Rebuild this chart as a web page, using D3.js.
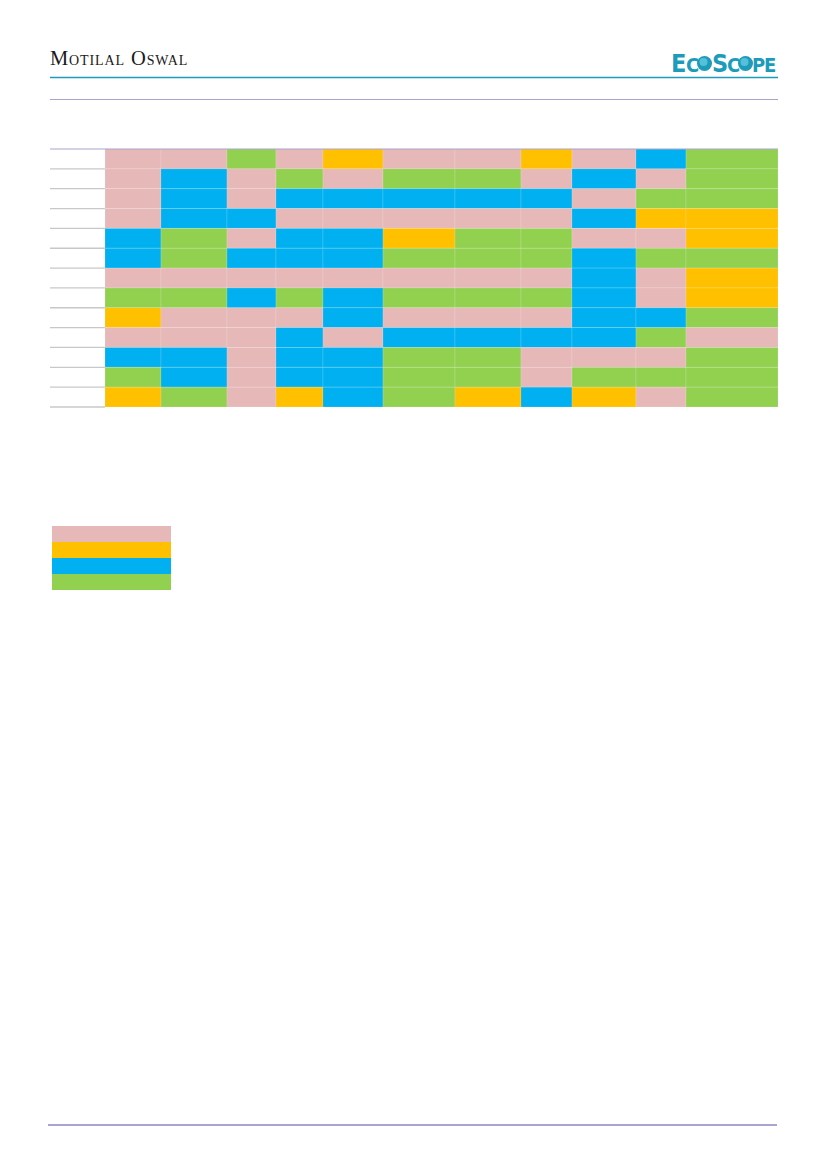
<!DOCTYPE html>
<html><head><meta charset="utf-8">
<script src="https://cdn.jsdelivr.net/npm/d3@7"></script>
<style>body{margin:0;background:#fff}svg{display:block}</style>
</head><body>
<script>
// ---- data ----
const columns = ["C1","C2","C3","C4","C5","C6","C7","C8","C9","C10","C11"];
const rows = ["R1","R2","R3","R4","R5","R6","R7","R8","R9","R10","R11","R12","R13"];
const categories = ["P","O","B","G"];
const cellValues = [
  "PPGPOPPOPBG",
  "PBPGPGGPBPG",
  "PBPBBBBBPGG",
  "PBBPPPPPBOO",
  "BGPBBOGGPPO",
  "BGBBBGGGBGG",
  "PPPPPPPPBPO",
  "GGBGBGGGBPO",
  "OPPPBPPPBBG",
  "PPPBPBBBBGP",
  "BBPBBGGPPPG",
  "GBPBBGGPGGG",
  "OGPOBGOBOPG"
];

// ---- layout ----
const W = 827, H = 1169;
const colEdges = [105,161,227,276,323,383,455,521,572,636,686,778];
const colors = {P:"#E6B8B7", O:"#FFC000", B:"#00B0F0", G:"#92D050"};

const svg = d3.select("body").append("svg").attr("width", W).attr("height", H);

// header
svg.append("text").attr("x", 50).attr("y", 64.5)
  .attr("font-family", "Liberation Serif, DejaVu Serif, serif")
  .attr("font-size", 20.5).style("font-variant", "small-caps")
  .attr("letter-spacing", 0.6).attr("fill", "#1a1a1a")
  .attr("textLength", 138).text("Motilal Oswal");

// Ecoscope logo
const logo = svg.append("g").attr("font-family", "DejaVu Sans Condensed, DejaVu Sans, sans-serif")
  .attr("font-weight", "bold").attr("fill", "#1C9CBA");
const lp = [
  {t:"E", x:671, s:25}, {t:"C", x:686, s:20}, {t:"O", x:698, s:0},
  {t:"S", x:712, s:25}, {t:"C", x:727, s:20}, {t:"O", x:739, s:0},
  {t:"P", x:752, s:20}, {t:"E", x:764, s:20}
];
lp.forEach(d => {
  if (d.s) {
    logo.append("text").attr("x", d.x).attr("y", 71.5).attr("font-size", d.s).text(d.t);
  } else {
    const gr = logo.append("g");
    gr.append("circle").attr("cx", d.x + 6.5).attr("cy", 63.5).attr("r", 7.5).attr("fill", "#1C9CBA");
    gr.append("circle").attr("cx", d.x + 5.5).attr("cy", 62).attr("r", 4).attr("fill", "#6fd0e8").attr("opacity", 0.7);
  }
});

svg.append("line").attr("x1", 50).attr("x2", 778).attr("y1", 77.5).attr("y2", 77.5)
  .attr("stroke", "#1C9CBA").attr("stroke-width", 1.3);
svg.append("line").attr("x1", 50).attr("x2", 778).attr("y1", 99.5).attr("y2", 99.5)
  .attr("stroke", "#A9A4CC").attr("stroke-width", 1.2);

// scales
const y = d3.scaleBand().domain(rows).range([149, 407]);
const x0 = d3.scaleOrdinal().domain(columns).range(colEdges.slice(0, -1));
const x1 = d3.scaleOrdinal().domain(columns).range(colEdges.slice(1));
const color = d3.scaleOrdinal().domain(categories).range(categories.map(c => colors[c]));

const cells = [];
rows.forEach((r, i) => columns.forEach((c, j) => cells.push({r, c, v: cellValues[i][j]})));

// left label lines
svg.append("g").selectAll("line").data(rows).join("line")
  .attr("x1", 50).attr("x2", 105)
  .attr("y1", d => y(d) + y.bandwidth()).attr("y2", d => y(d) + y.bandwidth())
  .attr("stroke", "#c8c8c8").attr("stroke-width", 1.3);

svg.append("g").selectAll("rect").data(cells).join("rect")
  .attr("x", d => x0(d.c)).attr("y", d => y(d.r))
  .attr("width", d => x1(d.c) - x0(d.c)).attr("height", y.bandwidth())
  .attr("fill", d => color(d.v))
  .attr("stroke", "#ffffff").attr("stroke-opacity", 0.15).attr("stroke-width", 1);

svg.append("line").attr("x1", 50).attr("x2", 778).attr("y1", 149).attr("y2", 149)
  .attr("stroke", "#A9A4CC").attr("stroke-width", 1.2);

// legend
const ly = d3.scaleBand().domain(categories).range([526, 590]);
svg.append("g").selectAll("rect").data(categories).join("rect")
  .attr("x", 52).attr("y", d => ly(d)).attr("width", 119).attr("height", ly.bandwidth())
  .attr("fill", d => color(d));

// footer line
svg.append("line").attr("x1", 48).attr("x2", 777).attr("y1", 1125).attr("y2", 1125)
  .attr("stroke", "#AAA5CF").attr("stroke-width", 2);
</script>
</body></html>
